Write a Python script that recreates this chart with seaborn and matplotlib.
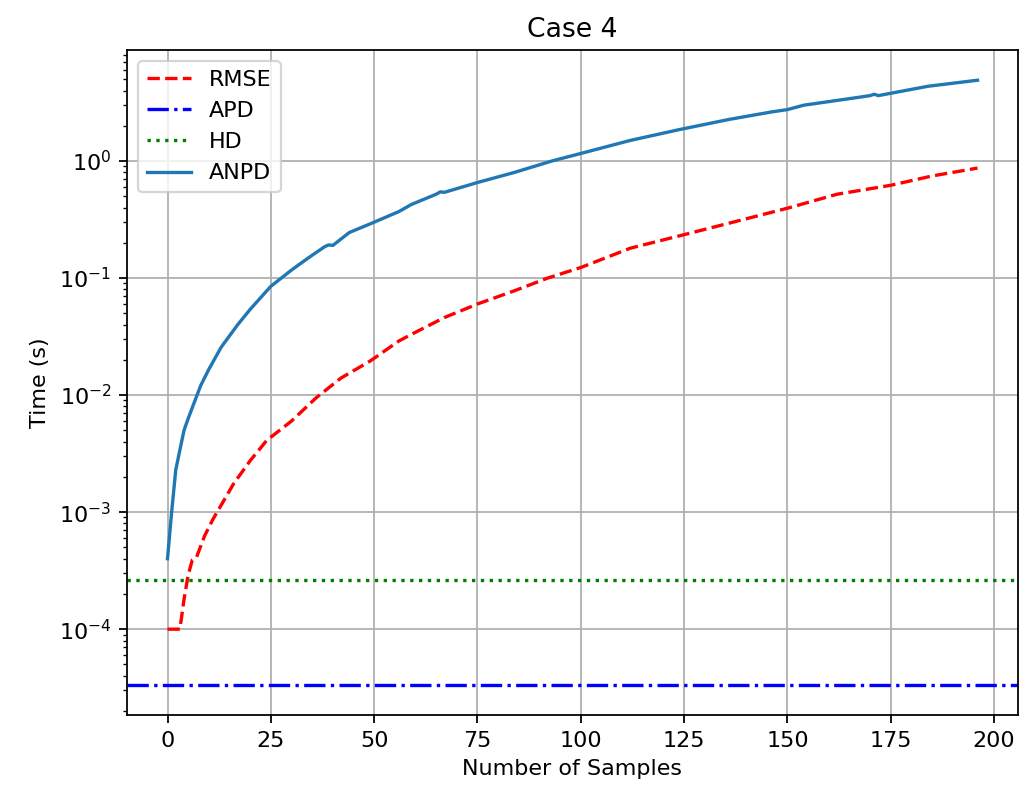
import numpy as np
import pandas as pd
import matplotlib
matplotlib.use('Agg')
import matplotlib.pyplot as plt
import seaborn as sns


# timing of each metric vs number of samples

rmse_x = [0, 1, 2, 3, 4, 5, 6, 7, 9, 11, 13, 16, 20, 24, 30, 36, 42, 49, 56,
          59, 67, 75, 84, 92, 100, 112, 124, 136, 150, 162, 175, 185, 196]
rmse_y = [1.0e-4, 1.0e-4, 1.0e-4, 1.0e-4, 1.8e-4, 2.9e-4, 3.9e-4, 4.1e-4,
          6.3e-4, 8.7e-4, 1.15e-3, 1.75e-3, 2.75e-3, 4.1e-3, 6.0e-3, 9.5e-3,
          1.4e-2, 1.95e-2, 2.9e-2, 3.3e-2, 4.6e-2, 6.0e-2, 7.8e-2, 1.0e-1,
          1.23e-1, 1.8e-1, 2.3e-1, 2.95e-1, 3.95e-1, 5.2e-1, 6.2e-1, 7.45e-1, 8.7e-1]

anpd_x = [0, 1, 2, 3, 4, 5, 8, 10, 13, 17, 20, 25, 30, 34, 38, 39, 40, 44, 49,
          56, 59, 65, 66, 67, 75, 84, 93, 100, 112, 124, 136, 146, 150, 154,
          166, 170, 171, 172, 184, 196]
anpd_y = [4.0e-4, 1.0e-3, 2.3e-3, 3.4e-3, 5.0e-3, 6.3e-3, 1.2e-2, 1.66e-2,
          2.57e-2, 4.0e-2, 5.4e-2, 8.5e-2, 1.17e-1, 1.48e-1, 1.85e-1, 1.92e-1,
          1.9e-1, 2.45e-1, 2.9e-1, 3.7e-1, 4.25e-1, 5.2e-1, 5.45e-1, 5.4e-1,
          6.55e-1, 8.0e-1, 1.0, 1.16, 1.5, 1.86, 2.27, 2.62, 2.75, 3.0, 3.45,
          3.62, 3.72, 3.62, 4.35, 4.9]

apd_time = 3.35e-5
hd_time = 2.62e-4


fig = plt.figure(figsize=(1027 / 160, 798 / 160), dpi=160)
ax = fig.add_axes([127 / 1027, 1 - 715 / 798, (1018 - 127) / 1027, (715 - 50) / 798])

rmse_df = pd.DataFrame({'x': rmse_x, 'y': rmse_y})
anpd_df = pd.DataFrame({'x': anpd_x, 'y': anpd_y})

sns.lineplot(data=rmse_df, x='x', y='y', ax=ax, color='r', linestyle='--', label='RMSE')
ax.axhline(apd_time, color='b', linestyle='-.', label='APD')
ax.axhline(hd_time, color='g', linestyle=':', label='HD')
sns.lineplot(data=anpd_df, x='x', y='y', ax=ax, color='tab:blue', label='ANPD')

ax.set_yscale('log')
ax.grid(True)
ax.set_title('Case 4')
ax.set_xlabel('Number of Samples')
ax.set_ylabel('Time (s)')
ax.set_xticks([0, 25, 50, 75, 100, 125, 150, 175, 200])
ax.legend(loc='upper left')

fig.savefig('out.png', dpi=160)
